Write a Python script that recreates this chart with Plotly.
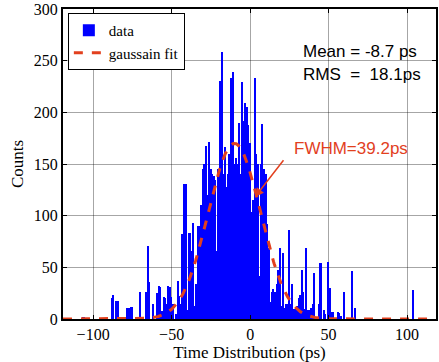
import numpy as np
import plotly.graph_objects as go

# Histogram data (bin centre in ps, counts)
time_bins = [-106, -88, -87, -85, -84, -78, -77, -76, -75, -70, -66, -65, -64, -62,
             -59, -58, -57, -56, -55, -54, -53, -52, -51, -50, -49, -47, -46,
             -45, -44, -43, -42, -41, -40, -39, -38, -37, -36, -35, -34, -33, -32, -31,
             -30, -29, -28, -27, -26, -25, -24, -23, -22, -21, -20, -19, -18, -17, -16,
             -15, -14, -13, -12, -11, -10, -9, -8, -7, -6, -5, -4, -3, -2, -1, 0,
             1, 2, 3, 4, 5, 6, 7, 8, 9, 10, 11, 12, 13, 14, 15, 16, 17, 18, 19, 20,
             21, 22, 23, 24, 25, 26, 27, 28, 29, 30, 31, 32, 33, 34, 35, 36, 37, 38,
             39, 40, 41, 44, 45, 47, 48, 50, 51, 52, 53, 56, 57, 58, 60, 65, 67, 104]
counts = [1, 20, 23, 17, 17, 11, 11, 12, 12, 26, 26, 71, 36, 15,
          25, 32, 31, 8, 21, 20, 15, 32, 31, 21, 15, 5, 37,
          22, 15, 82, 131, 131, 9, 83, 83, 66, 93, 13, 34, 90, 90, 110,
          145, 150, 167, 120, 171, 145, 140, 138, 135, 66, 145, 230, 258, 140, 166,
          128, 140, 160, 233, 239, 150, 156, 150, 190, 140, 229, 192, 209, 205, 188, 170,
          104, 115, 233, 160, 150, 42, 150, 189, 145, 140, 92, 69, 16, 26, 29, 26, 34, 47, 69, 13,
          64, 11, 15, 15, 86, 15, 34, 10, 10, 13, 20, 23, 47, 26, 10, 69, 9, 9,
          11, 15, 45, 15, 54, 9, 5, 55, 30, 7, 7, 7, 6, 3, 26, 46, 11, 28]

# Gaussian fit parameters
fit_amplitude = 170.0
fit_mean = -10.0
fit_fwhm = 39.2

x_range = [-119.2, 118.4]
y_range = [0, 300]
x_ticks = [-100, -50, 0, 50, 100]
y_ticks = [0, 50, 100, 150, 200, 250, 300]

sigma = fit_fwhm / (2 * np.sqrt(2 * np.log(2)))
fit_x = np.linspace(x_range[0], x_range[1], 600)
fit_y = fit_amplitude * np.exp(-(fit_x - fit_mean) ** 2 / (2 * sigma ** 2))

RED = "#E2401E"
SERIF = "Liberation Serif, Times New Roman, serif"
SANS = "Liberation Sans, Arial, sans-serif"

fig = go.Figure()
fig.add_trace(go.Bar(x=time_bins, y=counts, width=1.0, name="data",
                     marker=dict(color="#0000FF", line=dict(width=0))))
fig.add_trace(go.Scatter(x=fit_x, y=fit_y, mode="lines", name="gaussain fit",
                         line=dict(color=RED, width=3, dash="dash")))

fig.update_layout(
    width=439, height=362,
    margin=dict(l=63, r=1, t=5, b=43),
    plot_bgcolor="white", paper_bgcolor="white",
    bargap=0,
    showlegend=True,
    legend=dict(x=0.013, y=0.987, xanchor="left", yanchor="top",
                bgcolor="white", bordercolor="black", borderwidth=1,
                font=dict(family=SERIF, size=15, color="black"),
                tracegroupgap=0, itemwidth=30),
    font=dict(family=SERIF, size=16, color="black"),
)
fig.update_xaxes(range=x_range, tickvals=x_ticks, showgrid=True,
                 gridcolor="rgba(0,0,0,0.35)", gridwidth=1,
                 showline=True, linecolor="black", linewidth=2, mirror="ticks",
                 ticks="inside", ticklen=4, tickcolor="black", zeroline=False,
                 ticklabeloverflow="allow",
                 tickfont=dict(family=SERIF, size=16),
                 title=dict(text="Time Distribution (ps)", standoff=4,
                            font=dict(family=SERIF, size=17)))
fig.update_yaxes(range=y_range, tickvals=y_ticks, showgrid=True,
                 gridcolor="rgba(0,0,0,0.35)", gridwidth=1,
                 showline=True, linecolor="black", linewidth=2, mirror="ticks",
                 ticks="inside", ticklen=4, tickcolor="black", zeroline=False,
                 ticklabeloverflow="allow",
                 tickfont=dict(family=SERIF, size=16),
                 title=dict(text="Counts", standoff=6,
                            font=dict(family=SERIF, size=17)))

fig.add_annotation(x=32.2, y=259, text="Mean = -8.7 ps", showarrow=False,
                   xanchor="left", yanchor="middle",
                   font=dict(family=SANS, size=17, color="black"))
fig.add_annotation(x=32.2, y=237, text="RMS\u00a0\u00a0=\u00a0\u00a018.1ps", showarrow=False,
                   xanchor="left", yanchor="middle",
                   font=dict(family=SANS, size=17, color="black"))
fig.add_annotation(x=64.5, y=165, text="FWHM=39.2ps", showarrow=False,
                   xanchor="center", yanchor="middle",
                   font=dict(family=SANS, size=17, color=RED))
fig.add_annotation(x=3.0, y=118, ax=22.0, ay=155, axref="x", ayref="y",
                   text="", showarrow=True, arrowhead=2, arrowsize=1.2,
                   arrowwidth=1.5, arrowcolor=RED)

fig.write_html("out.html")
